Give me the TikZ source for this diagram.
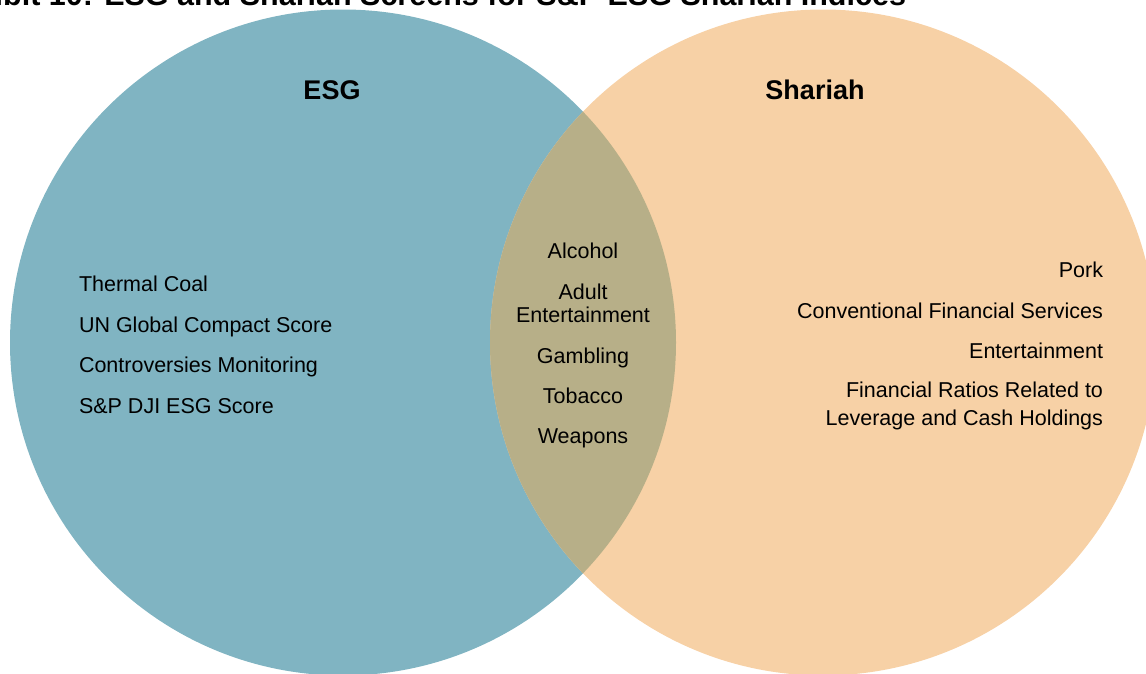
\documentclass[tikz,border=0pt]{standalone}
\usepackage{fontspec}
\setmainfont{Liberation Sans}
\begin{document}
\begin{tikzpicture}[x=1pt,y=-1pt,
  every node/.style={inner sep=0pt,outer sep=0pt,font=\fontsize{21.5}{28}\selectfont,text=black},
  heading/.style={font=\fontsize{27}{30}\selectfont\bfseries},
  lefttext/.style={anchor=base west},
  midtext/.style={anchor=base,align=center},
  righttext/.style={anchor=base east,align=right}]
\definecolor{esgblue}{RGB}{128,180,194}
\definecolor{shariahorange}{RGB}{247,209,166}
\definecolor{overlapolive}{RGB}{183,175,136}
\useasboundingbox (0,0) rectangle (1146,673);

% circle centres
\coordinate (esgc) at (343,342.5);
\coordinate (shac) at (823,342.5);

% the two sets and their overlap
\fill[esgblue] (esgc) circle[radius=333];
\fill[shariahorange] (shac) circle[radius=333];
\begin{scope}
  \clip (esgc) circle[radius=333];
  \fill[overlapolive] (shac) circle[radius=333];
\end{scope}

% title line, mostly above the page edge
\node[anchor=base east,font=\fontsize{30.5}{34}\selectfont\bfseries] (title) at (906,5)
  {Exhibit 10: ESG and Shariah Screens for S\&P ESG Shariah Indices};

% headings
\node[heading,anchor=base] (esg) at (332,99) {ESG};
\node[heading,anchor=base] (shariah) at (815,99) {Shariah};

% ESG-only screens
\node[lefttext] (coal) at (79,291) {Thermal Coal};
\node[lefttext] (ungc) at (79,332) {UN Global Compact Score};
\node[lefttext] (contro) at (79,372) {Controversies Monitoring};
\node[lefttext] (djiscore) at (79,413) {S\&P DJI ESG Score};

% shared screens
\node[midtext] (alcohol) at (583,258) {Alcohol};
\node[midtext] (adult) at (583,299) {Adult};
\node[midtext] (adultent) at (583,322) {Entertainment};
\node[midtext] (gambling) at (583,363) {Gambling};
\node[midtext] (tobacco) at (583,403) {Tobacco};
\node[midtext] (weapons) at (583,443) {Weapons};

% Shariah-only screens
\node[righttext] (pork) at (1103,277) {Pork};
\node[righttext] (convfin) at (1103,318) {Conventional Financial Services};
\node[righttext] (ent) at (1103,358) {Entertainment};
\node[righttext] (ratios) at (1103,397) {Financial Ratios Related to};
\node[righttext] (leverage) at (1103,425) {Leverage and Cash Holdings};
\end{tikzpicture}
\end{document}
